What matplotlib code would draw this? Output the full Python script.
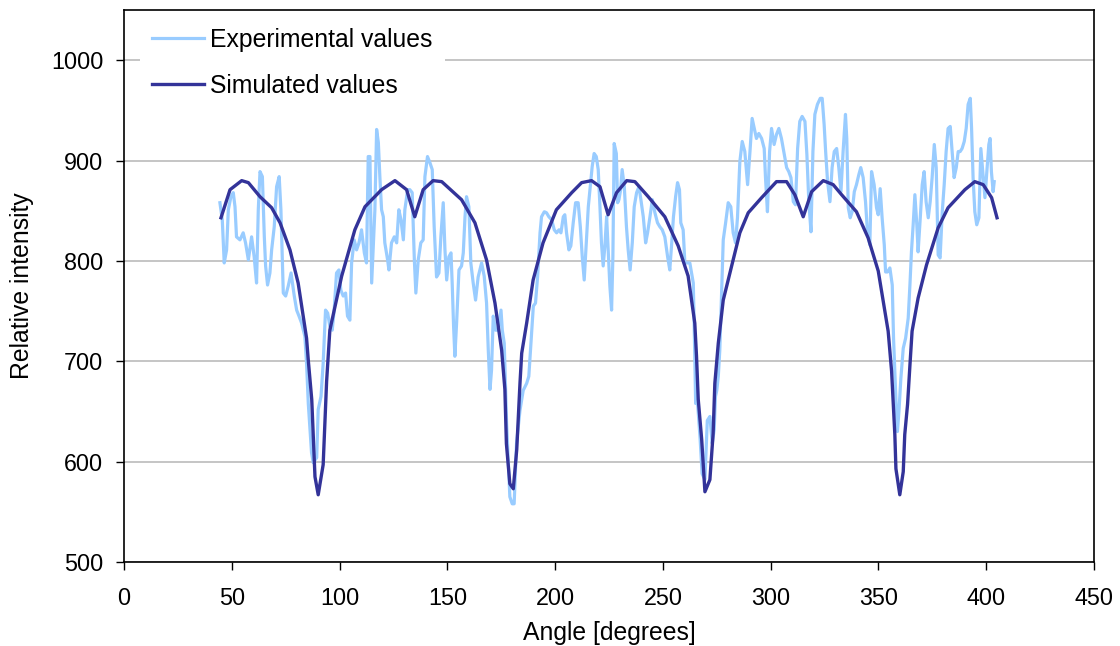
#! /usr/bin/env python

import numpy as np
import matplotlib
matplotlib.use('Agg')
import matplotlib.pyplot as plt

# experimental trace (angle in degrees, relative intensity)
expAngles = [44.5, 45.6, 46.5, 47.6, 48.4, 49.6, 50.7, 51.5, 52.2, 53.8, 55.3, 56.4, 57.7, 59.2, 60.4, 61.5, 62.3, 63.1, 64.2, 65.1,
             65.7, 66.6, 67.7, 68.5, 69.7, 70.8, 72.0, 72.8, 73.9, 75.0, 76.2, 77.5, 79.0, 80.1, 81.2, 82.4, 83.9, 84.7, 85.5, 86.3,
             87.0, 87.8, 89.4, 90.1, 91.4, 92.4, 93.5, 94.5, 95.5, 96.6, 97.5, 98.6, 99.7, 100.6, 101.7, 102.8, 103.7, 104.8, 105.6, 106.8,
             107.9, 109.0, 110.2, 111.5, 112.5, 113.3, 114.1, 114.9, 115.6, 116.4, 117.2, 118.0, 118.7, 119.5, 120.3, 121.0, 122.3, 122.9, 124.1, 125.4,
             126.5, 127.5, 128.5, 129.6, 130.3, 131.6, 132.6, 133.7, 134.7, 135.4, 136.5, 137.7, 138.8, 139.6, 140.8, 141.9, 143.0, 143.9, 145.0, 146.1,
             147.0, 148.1, 148.9, 149.7, 150.7, 151.7, 152.3, 152.9, 153.5, 154.3, 155.4, 156.6, 157.4, 158.2, 158.9, 160.0, 160.9, 162.0, 163.1, 164.3,
             165.1, 165.9, 167.1, 168.2, 169.0, 169.8, 170.5, 171.3, 172.4, 173.6, 174.9, 175.5, 176.4, 177.5, 178.3, 179.0, 180.1, 181.0, 182.1, 183.7,
             185.2, 186.8, 187.8, 188.8, 189.9, 190.9, 191.9, 193.0, 193.7, 195.0, 196.0, 197.1, 198.4, 199.6, 200.7, 201.8, 202.7, 203.8, 204.5, 205.3,
             206.4, 207.3, 208.4, 209.5, 210.7, 211.7, 212.6, 213.5, 214.4, 215.4, 216.3, 217.2, 218.1, 219.1, 220.0, 220.8, 221.5, 222.3, 223.1, 223.9,
             224.6, 225.4, 226.2, 226.8, 227.4, 228.4, 229.0, 229.6, 230.4, 231.1, 232.1, 233.1, 233.9, 234.8, 235.8, 236.7, 237.8, 238.9, 239.8, 240.9,
             242.0, 242.9, 244.0, 245.1, 246.3, 247.5, 248.6, 249.7, 250.9, 252.2, 253.2, 254.0, 254.9, 255.9, 256.8, 257.7, 258.3, 259.4, 260.2, 261.4,
             262.5, 263.3, 264.1, 264.5, 265.2, 266.1, 267.2, 268.2, 269.5, 270.6, 271.8, 272.9, 273.8, 274.4, 275.0, 275.7, 276.4, 277.2, 278.0, 279.1,
             280.3, 281.5, 282.6, 283.7, 284.6, 285.7, 286.8, 288.0, 289.3, 290.4, 291.4, 292.4, 293.4, 294.5, 295.8, 297.0, 297.6, 298.5, 299.5, 300.4,
             301.6, 302.7, 303.8, 305.0, 306.3, 307.4, 308.4, 309.4, 310.5, 311.5, 312.5, 313.5, 314.6, 315.9, 316.8, 317.7, 318.7, 319.6, 320.5, 321.7,
             323.0, 323.9, 324.8, 325.5, 326.4, 327.5, 328.5, 329.5, 330.6, 331.6, 332.6, 333.6, 334.7, 335.3, 336.0, 336.9, 337.8, 338.8, 339.8, 340.9,
             341.8, 342.9, 344.0, 344.9, 346.0, 346.8, 348.0, 349.1, 349.9, 350.8, 351.7, 352.7, 353.3, 354.2, 355.3, 356.4, 357.0, 357.6, 358.2, 358.8,
             359.5, 360.4, 361.5, 362.6, 363.8, 364.6, 365.3, 366.1, 366.9, 367.8, 368.4, 369.4, 370.3, 371.2, 372.1, 373.1, 374.0, 374.9, 375.9, 376.8,
             377.7, 378.6, 379.6, 380.5, 381.4, 382.3, 383.3, 384.2, 385.1, 386.1, 387.0, 387.9, 388.8, 389.8, 390.7, 391.6, 392.6, 393.2, 393.9, 394.7,
             395.6, 396.6, 397.5, 398.4, 399.4, 400.3, 401.2, 401.8, 402.4, 403.2, 403.7]
expValues = [858, 841, 798, 811, 851, 864, 868, 854, 824, 821, 828, 818, 801, 824, 804, 778, 851, 889, 884, 824,
             795, 776, 788, 811, 834, 874, 884, 851, 768, 765, 775, 788, 765, 751, 745, 738, 725, 698, 658, 632,
             609, 599, 604, 652, 665, 698, 751, 748, 735, 731, 751, 788, 791, 771, 765, 768, 745, 741, 798, 821,
             811, 818, 831, 808, 798, 904, 904, 778, 811, 851, 931, 918, 884, 851, 844, 818, 801, 791, 818, 824,
             818, 851, 841, 821, 851, 871, 871, 868, 801, 768, 801, 818, 821, 884, 904, 898, 891, 834, 784, 788,
             824, 858, 811, 781, 804, 808, 775, 735, 705, 738, 791, 795, 808, 844, 864, 854, 798, 778, 761, 784,
             791, 798, 785, 758, 711, 672, 691, 745, 731, 731, 751, 731, 718, 638, 598, 565, 558, 558, 618, 651,
             671, 678, 685, 718, 755, 758, 785, 828, 844, 849, 848, 844, 841, 831, 828, 831, 828, 844, 846, 828,
             811, 815, 838, 858, 858, 834, 804, 781, 815, 854, 874, 894, 907, 904, 891, 854, 818, 795, 815, 844,
             811, 775, 751, 804, 917, 907, 858, 861, 871, 891, 874, 834, 811, 791, 818, 854, 868, 874, 861, 844,
             818, 828, 844, 861, 848, 838, 834, 831, 824, 804, 791, 815, 844, 864, 878, 871, 838, 831, 798, 798,
             798, 788, 778, 738, 658, 658, 625, 588, 582, 641, 645, 618, 632, 665, 671, 685, 711, 765, 821, 838,
             858, 854, 828, 818, 843, 899, 919, 909, 876, 909, 942, 932, 922, 927, 922, 912, 883, 849, 909, 932,
             916, 926, 932, 922, 906, 893, 889, 883, 859, 856, 912, 939, 944, 939, 906, 859, 829, 909, 946, 956,
             962, 962, 936, 909, 879, 859, 893, 909, 912, 893, 869, 909, 946, 922, 853, 843, 849, 869, 876, 886,
             893, 883, 859, 829, 816, 889, 876, 853, 846, 872, 843, 816, 789, 789, 793, 776, 723, 690, 656, 630,
             650, 683, 713, 723, 743, 776, 809, 836, 866, 836, 809, 843, 876, 889, 859, 843, 859, 883, 916, 893,
             806, 803, 849, 876, 909, 932, 934, 909, 883, 893, 909, 909, 912, 919, 932, 956, 962, 932, 883, 849,
             836, 843, 912, 889, 863, 889, 916, 922, 889, 869, 879]

# simulated curve
simAngles = [45, 49.2, 54.6, 57.7, 63.1, 68.5, 72.4, 77.0, 80.8, 84.7, 85.5, 87.1, 88.6, 90.1, 92.4, 94.0, 95.5, 101.0, 107.1, 111.8,
             119.5, 125.7, 131.1, 134.9, 138.8, 143.4, 147.4, 156.6, 162.8, 168.2, 172.1, 175.2, 176.7, 177.4, 179.0, 180.6, 182.2, 183.7, 184.5, 186.8,
             189.8, 194.4, 200.6, 207.7, 212.3, 216.9, 220.8, 224.6, 228.5, 233.2, 237.0, 243.2, 250.9, 257.1, 261.7, 264.8, 265.6, 266.4, 268.0, 269.5,
             271.8, 273.3, 274.1, 275.7, 278.0, 281.9, 285.7, 289.6, 295.8, 302.7, 307.4, 311.2, 315.1, 319.0, 324.4, 329.0, 332.9, 339.8, 345.2, 349.9,
             354.5, 356.1, 357.6, 358.1, 359.9, 361.5, 362.2, 363.5, 364.6, 365.6, 368.4, 372.3, 377.7, 382.3, 390.1, 394.7, 398.6, 402.5, 405]
simValues = [843, 871, 880, 878, 864, 853, 838, 811, 778, 723, 701, 662, 585, 567, 597, 680, 731, 785, 831, 854,
             871, 880, 871, 844, 871, 880, 879, 861, 838, 801, 758, 711, 672, 618, 578, 573, 612, 678, 708, 738,
             781, 818, 851, 868, 878, 880, 874, 846, 868, 880, 879, 864, 844, 815, 785, 738, 705, 662, 622, 570,
             582, 628, 678, 718, 761, 795, 828, 848, 863, 879, 879, 866, 844, 869, 880, 876, 866, 849, 823, 790,
             730, 690, 627, 593, 567, 590, 627, 657, 696, 730, 763, 796, 833, 853, 871, 879, 876, 863, 843]

xTicks = [0, 50, 100, 150, 200, 250, 300, 350, 400, 450]
yTicks = [500, 600, 700, 800, 900, 1000]

plt.rcParams['font.family'] = ['Liberation Sans', 'DejaVu Sans']

fig = plt.figure(figsize=(11.2, 6.46), dpi=100)
ax = fig.add_axes([0.1107, 0.13, 0.8661, 0.8545])

ax.plot(expAngles, expValues, color='#99ccff', linewidth=2.3, label='Experimental values', zorder=2)
ax.plot(simAngles, simValues, color='#333399', linewidth=2.4, label='Simulated values', zorder=3)

ax.set_xlim(0, 450)
ax.set_ylim(500, 1050)
ax.set_xticks(xTicks)
ax.set_yticks(yTicks)
ax.grid(axis='y', color='#c0c0c0', linewidth=1.3, zorder=0)
ax.set_axisbelow(True)
for s in ax.spines.values():
    s.set_color('black')
    s.set_linewidth(1.2)
ax.tick_params(axis='both', direction='out', length=6, width=1, labelsize=16.8, colors='black')
ax.tick_params(axis='x', pad=12)
ax.tick_params(axis='y', pad=9)

ax.set_xlabel('Angle [degrees]', fontsize=17.8, labelpad=8)
ax.set_ylabel('Relative intensity', fontsize=17.8, labelpad=12)

leg = ax.legend(loc='upper left', bbox_to_anchor=(0.0165, 0.99), borderaxespad=0.,
                fontsize=17.8, frameon=True, fancybox=False, handlelength=2.1,
                handletextpad=0.25, labelspacing=0.9, borderpad=0.5)
leg.get_frame().set_facecolor('white')
leg.get_frame().set_edgecolor('none')
leg.get_frame().set_alpha(1)

fig.savefig('out.png', dpi=100)
